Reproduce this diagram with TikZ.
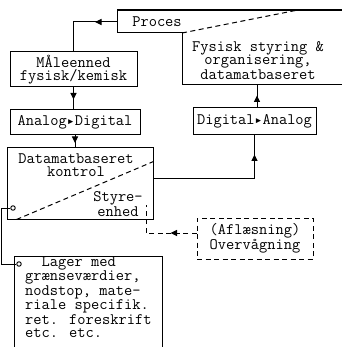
\documentclass[tikz,border=0pt]{standalone}
\usepackage{fontspec}
\newfontfamily\symf{DejaVu Sans Mono}
\usetikzlibrary{decorations.markings,arrows.meta}
\tikzset{
  tw/.style={font=\ttfamily\fontsize{16}{13.4}\selectfont, inner sep=0pt, align=center},
  box/.style={tw, draw, line width=1pt},
  ln/.style={line width=1pt},
  dsh/.style={line width=1pt, dash pattern=on 5pt off 3.5pt},
  arrowat/.style={postaction={decorate}, decoration={markings,
      mark=at position #1 with {\arrow{Triangle[length=6.5pt,width=6pt]}}}},
  port/.style={circle, draw, fill=white, line width=0.9pt, inner sep=0pt, minimum size=4.5pt},
}
\begin{document}
\begin{tikzpicture}[x=1pt,y=-1pt]
\useasboundingbox (0,0) rectangle (341,347);
% Proces / Fysisk styring shape
\draw[line width=1.5pt] (117,10) -- (345,10);
\draw[ln] (117,10) -- (117,33) -- (182,33) -- (182,85) -- (345,85);
\draw[dsh] (182,33) -- (298,10);
\coordinate (procw) at (117,22);
\coordinate (fysb) at (257,85);
\node[tw] (proc) at (157,22) {Proces};
\node[tw] (fys) at (258,60.5) {Fysisk styring \&\\organisering,\\datamatbaseret};
% boxes
\node[box, minimum width=127pt, minimum height=35pt] (mal) at (73.5,69.5) {MÅleenned\\fysisk/kemisk};
\node[box, minimum width=130pt, minimum height=25pt] (ad) at (75,122.5) {Analog{\symf\fontsize{13}{13}\selectfont ▸}Digital};
\node[box, minimum width=123pt, minimum height=27pt] (da) at (254.5,121.5) {Digital{\symf\fontsize{13}{13}\selectfont ▸}Analog};
\node[box, minimum width=146pt, minimum height=71pt] (dat) at (80,183.5) {};
\node[tw] (datt) at (76,165) {Datamatbaseret\\kontrol};
\node[tw] (sty) at (118,204) {Styre-\\enhed};
\node[box, dash pattern=on 5pt off 3.5pt, minimum width=116pt, minimum height=41pt] (afl) at (255,238.5) {(Afl{\ae}sning)\\Overv{\aa}gning};
% Lager box
\draw[ln] (14,352) -- (14,256) -- (162,256) -- (162,352);
\node[tw, anchor=north west, align=left] (lag) at (25,256.5) {\ \ Lager med\\gr{\ae}nsev{\ae}rdier,\\nodstop, mate-\\riale specifik.\\ret. foreskrift\\etc. etc.};
% dashed diagonal in control box
\draw[dsh] ([xshift=10pt]dat.south west) -- ([yshift=-14pt]dat.north east);
% connectors
\draw[ln, arrowat=22pt] (procw) -| (mal.north);
\draw[ln, arrowat=12pt] (mal.south) -- (mal.south |- ad.north);
\draw[ln, arrowat=7.5pt] (ad.south) -- (ad.south |- dat.north);
\draw[ln, arrowat=125pt] ([yshift=5pt]dat.east) -| (da.south);
\draw[ln, arrowat=12pt] (da.north -| fysb) -- (fysb);
\node[port] (c1) at (13,208) {};
\node[port] (c2) at (19,264) {};
\draw[ln] (c1.west) -- ++(-9,0) |- (c2.west);
\coordinate (styin) at (146,205);
\draw[dsh, arrowat=26pt] ([yshift=5.5pt]afl.west) -| (styin);
\end{tikzpicture}
\end{document}
